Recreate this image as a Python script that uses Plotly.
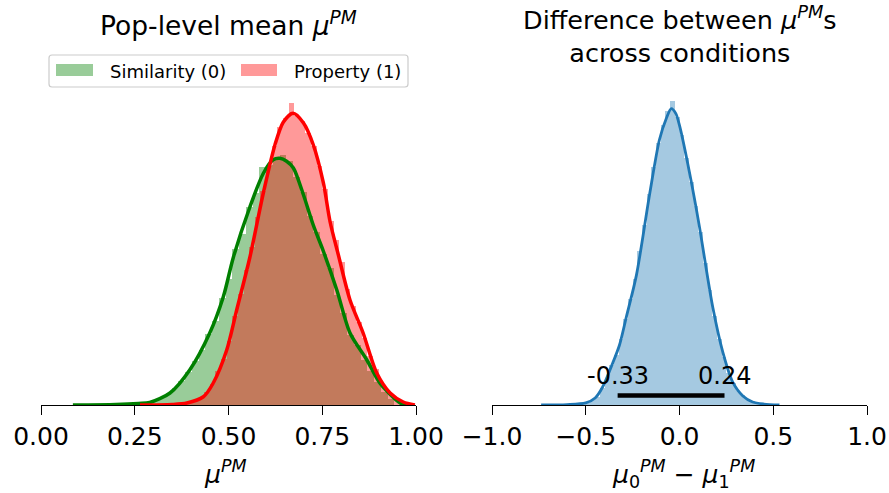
import plotly.graph_objects as go

# ---------------- data ----------------
# Posterior samples summarised as normalised histograms (density) + KDE curves.

# Similarity condition (0): histogram bins
sim_bin_width = 0.018
sim_bin_centers = [0.159, 0.177, 0.195, 0.213, 0.231, 0.249, 0.267, 0.285, 0.303, 0.321,
                   0.339, 0.357, 0.375, 0.393, 0.411, 0.429, 0.447, 0.465, 0.483, 0.501,
                   0.519, 0.537, 0.555, 0.573, 0.591, 0.609, 0.627, 0.645, 0.663, 0.681,
                   0.699, 0.717, 0.735, 0.753, 0.771, 0.789, 0.807, 0.825, 0.843, 0.861,
                   0.879, 0.897, 0.915, 0.933]
sim_density = [0.005, 0.004, 0.007, 0.010, 0.016, 0.020, 0.022, 0.030, 0.058, 0.092,
               0.150, 0.225, 0.315, 0.440, 0.590, 0.740, 0.950, 1.120, 1.420, 1.680,
               2.080, 2.280, 2.640, 2.820, 3.170, 3.200, 3.270, 3.330, 3.250, 3.040,
               2.840, 2.520, 2.300, 2.010, 1.830, 1.470, 1.220, 0.930, 0.800, 0.600,
               0.460, 0.310, 0.180, 0.080]

# Property condition (1): histogram bins
prop_bin_width = 0.015
prop_bin_centers = [0.3375, 0.3525, 0.3675, 0.3825, 0.3975, 0.4125, 0.4275, 0.4425, 0.4575, 0.4725,
                    0.4875, 0.5025, 0.5175, 0.5325, 0.5475, 0.5625, 0.5775, 0.5925, 0.6075, 0.6225,
                    0.6375, 0.6525, 0.6675, 0.6825, 0.6975, 0.7125, 0.7275, 0.7425, 0.7575, 0.7725,
                    0.7875, 0.8025, 0.8175, 0.8325, 0.8475, 0.8625, 0.8775, 0.8925, 0.9075, 0.9225,
                    0.9375, 0.9525, 0.9675, 0.9825]
prop_density = [0.003, 0.005, 0.010, 0.020, 0.040, 0.060, 0.100, 0.170, 0.280, 0.450,
                0.620, 0.850, 1.180, 1.480, 1.800, 2.100, 2.500, 2.850, 3.180, 3.450,
                3.700, 3.820, 4.020, 3.850, 3.780, 3.620, 3.450, 3.180, 2.880, 2.450,
                2.200, 1.900, 1.550, 1.320, 1.100, 0.900, 0.650, 0.480, 0.300, 0.200,
                0.120, 0.070, 0.030, 0.010]

# KDE curves
sim_kde_x = [0.085, 0.20, 0.26, 0.29, 0.344, 0.397, 0.45, 0.486, 0.513, 0.557, 0.593, 0.619,
             0.637, 0.655, 0.673, 0.70, 0.726, 0.753, 0.789, 0.824, 0.869, 0.904, 0.957, 0.975]
sim_kde_y = [0.0, 0.007, 0.02, 0.033, 0.16, 0.47, 0.96, 1.44, 1.97, 2.64, 3.09, 3.27,
             3.29, 3.25, 3.16, 2.80, 2.40, 2.05, 1.53, 0.96, 0.60, 0.29, 0.03, 0.0]

prop_kde_x = [0.264, 0.35, 0.389, 0.433, 0.459, 0.495, 0.522, 0.557, 0.593, 0.624, 0.646, 0.672,
              0.70, 0.726, 0.753, 0.771, 0.793, 0.824, 0.859, 0.895, 0.931, 0.966, 0.997]
prop_kde_y = [0.0, 0.007, 0.027, 0.11, 0.29, 0.73, 1.27, 1.97, 2.83, 3.47, 3.77, 3.89,
              3.76, 3.47, 2.96, 2.44, 2.00, 1.40, 0.96, 0.43, 0.16, 0.04, 0.0]

# Difference mu0 - mu1: histogram bins
diff_bin_width = 0.025
diff_bin_centers = [-0.5875, -0.5625, -0.5375, -0.5125, -0.4875, -0.4625, -0.4375, -0.4125, -0.3875, -0.3625,
                    -0.3375, -0.3125, -0.2875, -0.2625, -0.2375, -0.2125, -0.1875, -0.1625, -0.1375, -0.1125,
                    -0.0875, -0.0625, -0.0375, -0.0125, 0.0125, 0.0375, 0.0625, 0.0875, 0.1125, 0.1375,
                    0.1625, 0.1875, 0.2125, 0.2375, 0.2625, 0.2875, 0.3125, 0.3375, 0.3625, 0.3875,
                    0.4125, 0.4375]
diff_density = [0.004, 0.006, 0.010, 0.014, 0.020, 0.040, 0.070, 0.140, 0.220, 0.330,
                0.420, 0.550, 0.720, 0.880, 1.050, 1.280, 1.500, 1.760, 1.980, 2.180,
                2.330, 2.450, 2.530, 2.400, 2.250, 2.060, 1.860, 1.660, 1.440, 1.180,
                0.960, 0.740, 0.550, 0.400, 0.270, 0.180, 0.120, 0.080, 0.050, 0.030,
                0.015, 0.008]

diff_kde_x = [-0.738, -0.6, -0.5, -0.45, -0.41, -0.356, -0.32, -0.284, -0.23, -0.16, -0.107, -0.07,
              -0.044, -0.02, 0.0, 0.053, 0.107, 0.142, 0.178, 0.231, 0.284, 0.338, 0.39, 0.45, 0.533]
diff_kde_y = [0.0, 0.003, 0.017, 0.058, 0.15, 0.35, 0.50, 0.73, 1.08, 1.75, 2.21, 2.39,
              2.47, 2.43, 2.33, 1.94, 1.48, 1.14, 0.81, 0.44, 0.19, 0.075, 0.025, 0.008, 0.0]

# 95% HDI of the difference
hdi_bounds = [-0.33, 0.24]
hdi_level = 0.08

left_ticks = [0.0, 0.25, 0.5, 0.75, 1.0]
left_ticktext = ["0.00", "0.25", "0.50", "0.75", "1.00"]
right_ticks = [-1.0, -0.5, 0.0, 0.5, 1.0]
right_ticktext = ["\u22121.0", "\u22120.5", "0.0", "0.5", "1.0"]

# ---------------- layout helpers ----------------
W, H = 889, 493
FONT = "DejaVu Sans"


def px(x):
    return x / W


def py(y):
    return (H - y) / H


GREEN = "rgb(0,128,0)"
RED = "rgb(255,0,0)"
BLUE = "#1f77b4"

fig = go.Figure()

# left panel
fig.add_trace(go.Bar(x=sim_bin_centers, y=sim_density, width=sim_bin_width,
                     marker=dict(color="rgba(0,128,0,0.4)", line=dict(width=0)),
                     xaxis="x", yaxis="y", showlegend=False))
fig.add_trace(go.Bar(x=prop_bin_centers, y=prop_density, width=prop_bin_width,
                     marker=dict(color="rgba(255,0,0,0.4)", line=dict(width=0)),
                     xaxis="x", yaxis="y", showlegend=False))
fig.add_trace(go.Scatter(x=sim_kde_x, y=sim_kde_y, mode="lines",
                         line=dict(color=GREEN, width=3.5, shape="spline", smoothing=0.8),
                         xaxis="x", yaxis="y", showlegend=False))
fig.add_trace(go.Scatter(x=prop_kde_x, y=prop_kde_y, mode="lines",
                         line=dict(color=RED, width=3.5, shape="spline", smoothing=0.8),
                         xaxis="x", yaxis="y", showlegend=False))

# right panel
fig.add_trace(go.Bar(x=diff_bin_centers, y=diff_density, width=diff_bin_width,
                     marker=dict(color="rgba(31,119,180,0.4)", line=dict(width=0)),
                     xaxis="x2", yaxis="y2", showlegend=False))
fig.add_trace(go.Scatter(x=diff_kde_x, y=diff_kde_y, mode="lines",
                         line=dict(color=BLUE, width=2.8, shape="spline", smoothing=0.8),
                         xaxis="x2", yaxis="y2", showlegend=False))
fig.add_trace(go.Scatter(x=hdi_bounds, y=[hdi_level, hdi_level], mode="lines",
                         line=dict(color="black", width=4.5),
                         xaxis="x2", yaxis="y2", showlegend=False))

annotations = []
for v in hdi_bounds:
    annotations.append(dict(x=v, y=hdi_level, xref="x2", yref="y2", text=f"{v:.2f}",
                            showarrow=False, yanchor="bottom", yshift=3,
                            font=dict(family=FONT, size=24, color="black")))

# titles
annotations.append(dict(x=px(228.5), y=py(24), xref="paper", yref="paper",
                        text="Pop-level mean <i>μ</i><sup><i>PM</i></sup>", showarrow=False,
                        xanchor="center", yanchor="middle",
                        font=dict(family=FONT, size=26.5, color="black")))
annotations.append(dict(x=px(679.5), y=py(34), xref="paper", yref="paper",
                        text="Difference between <i>μ</i><sup><i>PM</i></sup>s<br>across conditions",
                        showarrow=False, xanchor="center", yanchor="middle",
                        font=dict(family=FONT, size=25.5, color="black")))

# axis labels
annotations.append(dict(x=px(225), y=py(472), xref="paper", yref="paper",
                        text="<i>μ</i><sup><i>PM</i></sup>", showarrow=False,
                        xanchor="center", yanchor="middle",
                        font=dict(family=FONT, size=25, color="black")))
annotations.append(dict(x=px(683), y=py(474), xref="paper", yref="paper",
                        text=("<i>μ</i><sub>0</sub><sup><i>PM</i></sup> − "
                              "<i>μ</i><sub>1</sub><sup><i>PM</i></sup>"),
                        showarrow=False, xanchor="center", yanchor="middle",
                        font=dict(family=FONT, size=25, color="black")))

# legend entries
annotations.append(dict(x=px(108), y=py(71), xref="paper", yref="paper",
                        text="Similarity (0)", showarrow=False, xanchor="left", yanchor="middle",
                        font=dict(family=FONT, size=18, color="black")))
annotations.append(dict(x=px(292), y=py(71), xref="paper", yref="paper",
                        text="Property (1)", showarrow=False, xanchor="left", yanchor="middle",
                        font=dict(family=FONT, size=18, color="black")))

shapes = []
# legend frame with rounded corners
fx0, fx1, fy0, fy1 = 49, 408, 55, 87
rr = 3


def P(x, y):
    return f"{px(x)},{py(y)}"


frame_path = (f"M {P(fx0 + rr, fy0)} L {P(fx1 - rr, fy0)} Q {P(fx1, fy0)} {P(fx1, fy0 + rr)} "
              f"L {P(fx1, fy1 - rr)} Q {P(fx1, fy1)} {P(fx1 - rr, fy1)} "
              f"L {P(fx0 + rr, fy1)} Q {P(fx0, fy1)} {P(fx0, fy1 - rr)} "
              f"L {P(fx0, fy0 + rr)} Q {P(fx0, fy0)} {P(fx0 + rr, fy0)} Z")
shapes.append(dict(type="path", path=frame_path, xref="paper", yref="paper",
                   line=dict(color="#cccccc", width=1.2), fillcolor="rgba(255,255,255,0.8)",
                   layer="above"))
shapes.append(dict(type="rect", xref="paper", yref="paper", x0=px(56), x1=px(93), y0=py(76), y1=py(64),
                   fillcolor="rgba(0,128,0,0.4)", line=dict(width=0), layer="above"))
shapes.append(dict(type="rect", xref="paper", yref="paper", x0=px(241), x1=px(277), y0=py(76), y1=py(64),
                   fillcolor="rgba(255,0,0,0.4)", line=dict(width=0), layer="above"))

ydom = [py(405), py(50)]
axis_common = dict(showline=True, linecolor="black", linewidth=1.3, ticks="outside",
                   ticklen=9, tickwidth=1.3, tickcolor="black", showgrid=False, zeroline=False,
                   tickfont=dict(family=FONT, size=25, color="black"), mirror=False,
                   automargin=False)

fig.update_layout(
    width=W, height=H,
    margin=dict(l=0, r=0, t=0, b=0, autoexpand=False),
    paper_bgcolor="white", plot_bgcolor="white",
    barmode="overlay", bargap=0,
    showlegend=False,
    xaxis=dict(domain=[px(41), px(416)], range=[0, 1], tickvals=left_ticks,
               ticktext=left_ticktext, anchor="y", **axis_common),
    yaxis=dict(domain=ydom, range=[0, 4.733], visible=False, anchor="x", automargin=False),
    xaxis2=dict(domain=[px(492), px(867)], range=[-1, 1], tickvals=right_ticks,
                ticktext=right_ticktext, anchor="y2", **axis_common),
    yaxis2=dict(domain=ydom, range=[0, 2.958], visible=False, anchor="x2", automargin=False),
    annotations=annotations,
    shapes=shapes,
)

fig.write_html("out.html")
